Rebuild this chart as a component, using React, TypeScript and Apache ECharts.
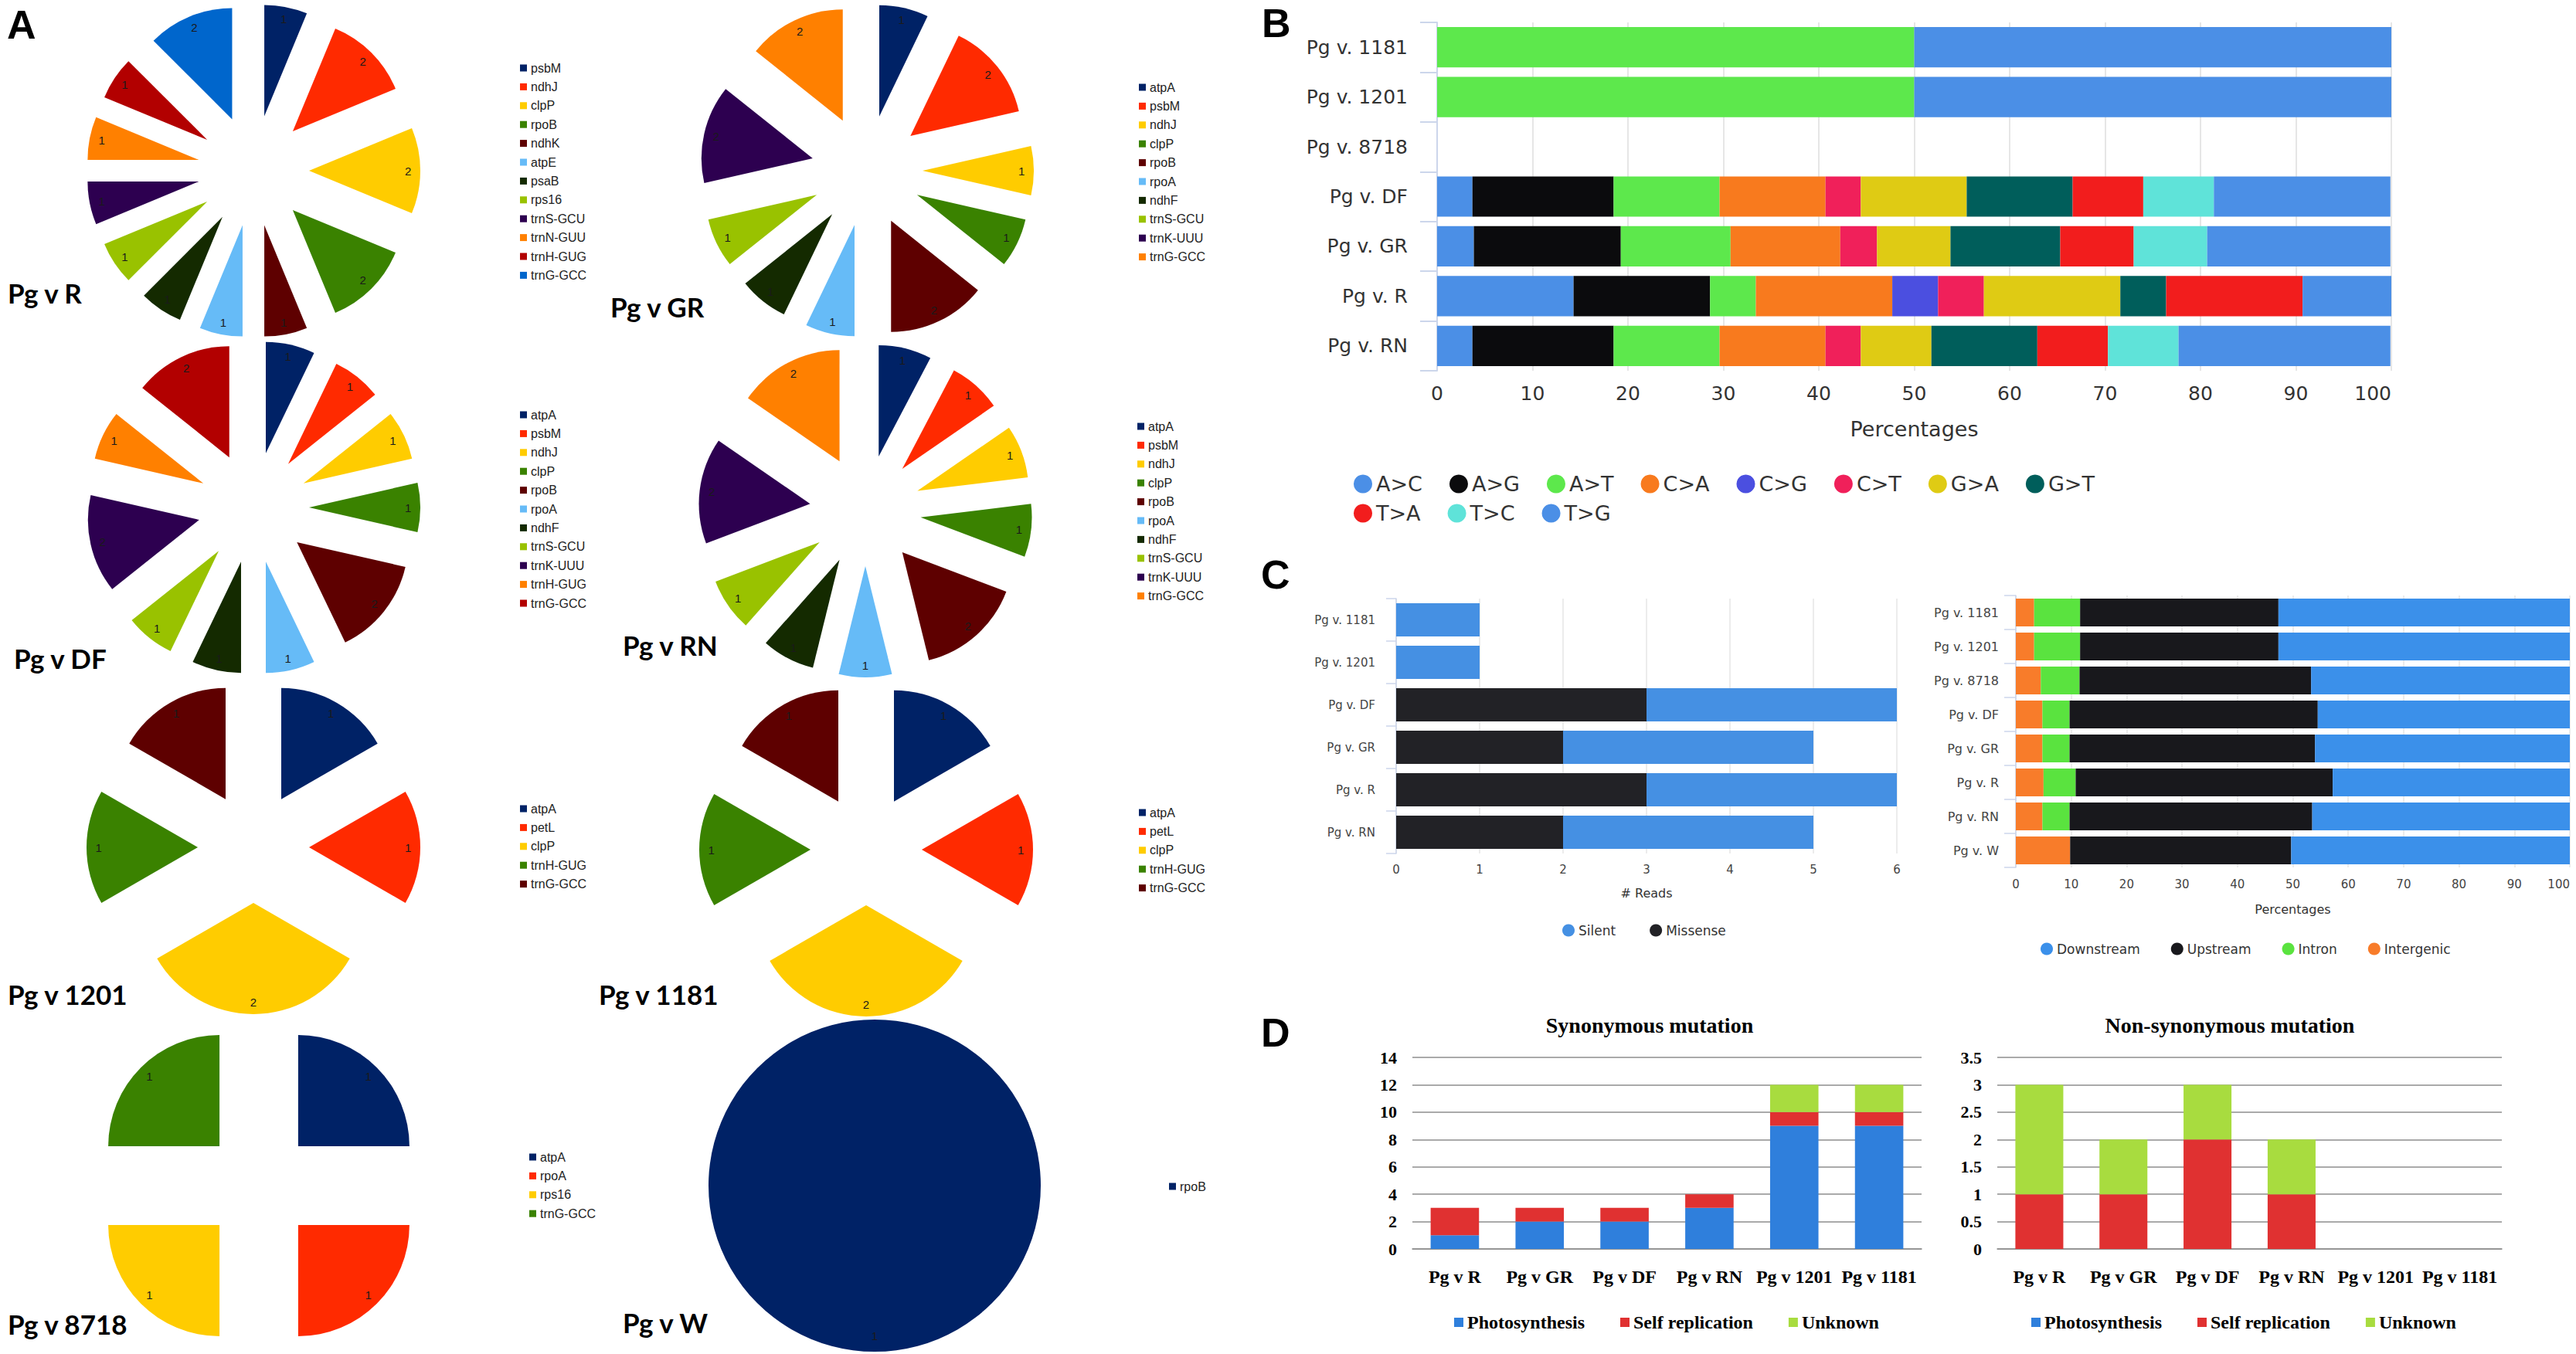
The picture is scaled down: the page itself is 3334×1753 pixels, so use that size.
import React, { useEffect, useRef } from "react";
import * as echarts from "echarts";

// ---------------- Panel A data ----------------
const PIE_TITLES = ["Pg v R", "Pg v GR", "Pg v DF", "Pg v RN", "Pg v 1201", "Pg v 1181", "Pg v 8718", "Pg v W"];
const R_GENES = ["psbM", "ndhJ", "clpP", "rpoB", "ndhK", "atpE", "psaB", "rps16", "trnS-GCU", "trnN-GUU", "trnH-GUG", "trnG-GCC"];
const R_COUNTS = [1, 2, 2, 2, 1, 1, 1, 1, 1, 1, 1, 2];
const GR_GENES = ["atpA", "psbM", "ndhJ", "clpP", "rpoB", "rpoA", "ndhF", "trnS-GCU", "trnK-UUU", "trnG-GCC"];
const GR_COUNTS = [1, 2, 1, 1, 2, 1, 1, 1, 2, 2];
const DF_GENES = ["atpA", "psbM", "ndhJ", "clpP", "rpoB", "rpoA", "ndhF", "trnS-GCU", "trnK-UUU", "trnH-GUG", "trnG-GCC"];
const DF_COUNTS = [1, 1, 1, 1, 2, 1, 1, 1, 2, 1, 2];
const RN_GENES = ["atpA", "psbM", "ndhJ", "clpP", "rpoB", "rpoA", "ndhF", "trnS-GCU", "trnK-UUU", "trnG-GCC"];
const RN_COUNTS = [1, 1, 1, 1, 2, 1, 1, 1, 2, 2];
const V1201_GENES = ["atpA", "petL", "clpP", "trnH-GUG", "trnG-GCC"];
const V1201_COUNTS = [1, 1, 2, 1, 1];
const V1181_GENES = ["atpA", "petL", "clpP", "trnH-GUG", "trnG-GCC"];
const V1181_COUNTS = [1, 1, 2, 1, 1];
const V8718_GENES = ["atpA", "rpoA", "rps16", "trnG-GCC"];
const V8718_COUNTS = [1, 1, 1, 1];
const W_GENES = ["rpoB"];
const W_COUNTS = [1];

const PIE_GENES = [R_GENES, GR_GENES, DF_GENES, RN_GENES, V1201_GENES, V1181_GENES, V8718_GENES, W_GENES];
const PIE_COUNTS = [R_COUNTS, GR_COUNTS, DF_COUNTS, RN_COUNTS, V1201_COUNTS, V1181_COUNTS, V8718_COUNTS, W_COUNTS];

// ---------------- Panel B data ----------------
const B_CATEGORIES = ["Pg v. 1181", "Pg v. 1201", "Pg v. 8718", "Pg v. DF", "Pg v. GR", "Pg v. R", "Pg v. RN"];
const B_TYPES = ["A>C", "A>G", "A>T", "C>A", "C>G", "C>T", "G>A", "G>T", "T>A", "T>C", "T>G"];
const B_AC = [0, 0, 0, 3.7, 3.85, 14.3, 3.7];
const B_AG = [0, 0, 0, 14.8, 15.4, 14.3, 14.8];
const B_AT = [50, 50, 0, 11.1, 11.5, 4.8, 11.1];
const B_CA = [0, 0, 0, 11.1, 11.5, 14.3, 11.1];
const B_CG = [0, 0, 0, 0, 0, 4.8, 0];
const B_CT = [0, 0, 0, 3.7, 3.85, 4.8, 3.7];
const B_GA = [0, 0, 0, 11.1, 7.7, 14.3, 7.4];
const B_GT = [0, 0, 0, 11.1, 11.5, 4.8, 11.1];
const B_TA = [0, 0, 0, 7.4, 7.7, 14.3, 7.4];
const B_TC = [0, 0, 0, 7.4, 7.7, 0, 7.4];
const B_TG = [50, 50, 0, 18.5, 19.2, 9.5, 22.2];
const B_VALUES = [B_AC, B_AG, B_AT, B_CA, B_CG, B_CT, B_GA, B_GT, B_TA, B_TC, B_TG];

// ---------------- Panel C data ----------------
const C1_CATEGORIES = ["Pg v. 1181", "Pg v. 1201", "Pg v. DF", "Pg v. GR", "Pg v. R", "Pg v. RN"];
const C1_MISSENSE = [0, 0, 3, 2, 3, 2];
const C1_SILENT = [1, 1, 3, 3, 3, 3];

const C2_CATEGORIES = ["Pg v. 1181", "Pg v. 1201", "Pg v. 8718", "Pg v. DF", "Pg v. GR", "Pg v. R", "Pg v. RN", "Pg v. W"];
const C2_INTERGENIC = [3.3, 3.3, 4.5, 4.8, 4.8, 5.0, 4.8, 9.8];
const C2_INTRON = [8.3, 8.3, 7.0, 4.9, 4.9, 5.8, 4.9, 0];
const C2_UPSTREAM = [35.8, 35.8, 41.8, 44.8, 44.3, 46.4, 43.8, 39.9];
const C2_DOWNSTREAM = [52.6, 52.6, 46.7, 45.5, 46.0, 42.8, 46.5, 50.3];

// ---------------- Panel D data ----------------
const D_CATEGORIES = ["Pg v R", "Pg v GR", "Pg v DF", "Pg v RN", "Pg v 1201", "Pg v 1181"];
const D_GROUPS = ["Photosynthesis", "Self replication", "Unknown"];
const SYN_PHOTO = [1, 2, 2, 3, 9, 9];
const SYN_SELF = [2, 1, 1, 1, 1, 1];
const SYN_UNKNOWN = [0, 0, 0, 0, 2, 2];
const NON_PHOTO = [0, 0, 0, 0, 0, 0];
const NON_SELF = [1, 1, 2, 1, 0, 0];
const NON_UNKNOWN = [2, 1, 1, 1, 0, 0];

// ---------------- styles / layout ----------------
const PIE_PALETTE = ["#002266", "#ff2a00", "#ffcc00", "#3a8200", "#5e0000", "#66bbf7", "#142a00", "#99c200", "#2d0050", "#ff8000", "#b20000", "#0066cc"];
const B_COLORS = ["#4b8fe6", "#0b0b0d", "#5de84c", "#f87a1e", "#4b4fe0", "#f0205a", "#dfcb14", "#005e5b", "#f21d1d", "#5fe3d9", "#4b8fe6"];
const D_COLORS = ["#2f7fdc", "#e03131", "#a8dc3f"];

const PIE_LAYOUT = [
  { cell: [0, 0, 790, 440], center: [328, 221], legend: [673, 88], label: [10, 379], r: 144, explode: true },
  { cell: [760, 0, 840, 440], center: [1122, 221], legend: [1474, 113], label: [790, 397], r: 144, explode: true },
  { cell: [0, 440, 790, 440], center: [328, 657], legend: [673, 537], label: [18, 852], r: 144, explode: true },
  { cell: [760, 440, 840, 440], center: [1120, 661], legend: [1472, 552], label: [806, 835], r: 144, explode: true },
  { cell: [0, 880, 790, 440], center: [328, 1097], legend: [673, 1047], label: [10, 1287], r: 144, explode: true },
  { cell: [760, 880, 840, 440], center: [1121, 1100], legend: [1474, 1052], label: [775, 1287], r: 144, explode: true },
  { cell: [0, 1320, 790, 433], center: [335, 1535], legend: [685, 1498], label: [10, 1714], r: 144, explode: true },
  { cell: [760, 1320, 840, 433], center: [1132, 1535], legend: [1513, 1536], label: [806, 1712], r: 215, explode: false },
];

const SANS = "'Liberation Sans', Arial, sans-serif";
const DEJAVU = "'DejaVu Sans', sans-serif";
const SERIF = "'Liberation Serif', 'Times New Roman', serif";

function panelLetter(letter: string, x: number, y: number) {
  return {
    type: "text",
    x,
    y,
    style: {
      text: letter,
      fontSize: 52,
      fontWeight: "bold",
      fontFamily: SANS,
      fill: "#000",
      align: "left",
      textAlign: "left",
      verticalAlign: "middle",
      textVerticalAlign: "middle",
    },
  };
}

function pieOption(i: number) {
  const L = PIE_LAYOUT[i];
  const [cx0, cy0] = L.cell;
  const center = [L.center[0] - cx0, L.center[1] - cy0];
  const data = PIE_GENES[i].map((g, k) => ({ name: g, value: PIE_COUNTS[i][k], selected: L.explode }));
  const off = 72;
  const graphic: any[] = [
    {
      type: "text",
      x: L.label[0] - cx0,
      y: L.label[1] - cy0,
      style: {
        text: PIE_TITLES[i],
        fontSize: 35,
        fontWeight: "bold",
        fontFamily: "Lato, 'Liberation Sans', sans-serif",
        fill: "#000",
        align: "left",
        textAlign: "left",
        verticalAlign: "middle",
        textVerticalAlign: "middle",
      },
    },
  ];
  if (i === 0) graphic.push(panelLetter("A", 9, 32));
  const full = !L.explode;
  const inner = full ? 175 : L.r * 0.74;
  const labelSeries: any = {
    type: "pie",
    center,
    radius: [inner, L.r],
    startAngle: 90,
    clockwise: true,
    selectedMode: L.explode ? "multiple" : false,
    selectedOffset: off,
    avoidLabelOverlap: false,
    silent: true,
    itemStyle: { color: "rgba(0,0,0,0)" },
    label: { show: true, position: "inside", formatter: "{c}", fontSize: 15, fontFamily: SANS, color: "#1a1a1a" },
    labelLine: { show: false },
    emphasis: { disabled: true },
    data,
  };
  if (full) {
    labelSeries.labelLayout = () => ({ x: center[0], y: center[1] + 194 });
  }
  return {
    animation: false,
    color: PIE_PALETTE,
    legend: {
      orient: "vertical",
      left: L.legend[0] - cx0,
      top: L.legend[1] - cy0 - 8,
      icon: "rect",
      itemWidth: 9,
      itemHeight: 9,
      itemGap: 8.4,
      padding: 0,
      selectedMode: false,
      textStyle: { fontSize: 16, lineHeight: 16, fontFamily: SANS, color: "#222" },
      data: PIE_GENES[i],
    },
    graphic,
    series: [
      {
        type: "pie",
        center,
        radius: [0, L.r],
        startAngle: 90,
        clockwise: true,
        selectedMode: L.explode ? "multiple" : false,
        selectedOffset: off,
        avoidLabelOverlap: false,
        silent: true,
        label: { show: false },
        labelLine: { show: false },
        emphasis: { disabled: true },
        data,
      },
      labelSeries,
    ],
  };
}

function optionB() {
  const legendBase = {
    icon: "circle",
    itemWidth: 24,
    itemHeight: 24,
    itemGap: 35,
    padding: 0,
    selectedMode: false,
    textStyle: { fontSize: 27, fontFamily: DEJAVU, color: "#333", width: 104 },
  };
  return {
    animation: false,
    graphic: [panelLetter("B", 33, 30)],
    grid: { left: 260, top: 29, width: 1235, height: 451 },
    legend: [
      { ...legendBase, left: 152, top: 613, data: B_TYPES.slice(0, 8) },
      { ...legendBase, left: 152, top: 651, data: B_TYPES.slice(8) },
    ],
    xAxis: {
      type: "value",
      min: 0,
      max: 100,
      interval: 10,
      axisLine: { show: false },
      axisTick: { show: false },
      splitLine: { lineStyle: { color: "#e6e6e6", width: 2 } },
      axisLabel: { fontSize: 25, margin: 17, color: "#333", fontFamily: DEJAVU, alignMaxLabel: "right" },
      name: "Percentages",
      nameLocation: "middle",
      nameGap: 62,
      nameTextStyle: { fontSize: 27, color: "#333", fontFamily: DEJAVU },
    },
    yAxis: {
      type: "category",
      inverse: true,
      data: B_CATEGORIES,
      axisLine: { show: true, lineStyle: { color: "#ccd6eb", width: 2 } },
      axisTick: { show: true, length: 22, lineStyle: { color: "#ccd6eb", width: 2 } },
      axisLabel: { fontSize: 25, margin: 38, color: "#333", fontFamily: DEJAVU },
      splitLine: { show: false },
    },
    series: B_TYPES.map((t, k) => ({
      name: t,
      type: "bar",
      stack: "all",
      barCategoryGap: "19%",
      silent: true,
      itemStyle: { color: B_COLORS[k] },
      data: B_VALUES[k],
    })),
  };
}

function optionC1() {
  return {
    animation: false,
    graphic: [panelLetter("C", 32, 44)],
    grid: { left: 207, top: 75, width: 648, height: 330 },
    legend: {
      left: 422,
      top: 496,
      icon: "circle",
      itemWidth: 16,
      itemHeight: 16,
      itemGap: 44,
      padding: 0,
      selectedMode: false,
      textStyle: { fontSize: 17, fontFamily: DEJAVU, color: "#333" },
      data: ["Silent", "Missense"],
    },
    xAxis: {
      type: "value",
      min: 0,
      max: 6,
      interval: 1,
      axisLine: { show: false },
      axisTick: { show: false },
      splitLine: { lineStyle: { color: "#e6e6e6", width: 1.5 } },
      axisLabel: { fontSize: 15, margin: 13, color: "#444", fontFamily: DEJAVU },
      name: "# Reads",
      nameLocation: "middle",
      nameGap: 43,
      nameTextStyle: { fontSize: 16, color: "#333", fontFamily: DEJAVU },
    },
    yAxis: {
      type: "category",
      inverse: true,
      data: C1_CATEGORIES,
      axisLine: { show: true, lineStyle: { color: "#ccd6eb", width: 1.5 } },
      axisTick: { show: true, length: 13, lineStyle: { color: "#ccd6eb", width: 1.5 } },
      axisLabel: { fontSize: 15, margin: 27, color: "#444", fontFamily: DEJAVU },
    },
    series: [
      { name: "Missense", type: "bar", stack: "all", barCategoryGap: "22%", silent: true, itemStyle: { color: "#222226" }, data: C1_MISSENSE },
      { name: "Silent", type: "bar", stack: "all", barCategoryGap: "22%", silent: true, itemStyle: { color: "#4590e3" }, data: C1_SILENT },
    ],
  };
}

function optionC2() {
  return {
    animation: false,
    grid: { left: 94, top: 71, width: 732, height: 352 },
    legend: {
      left: 141,
      top: 520,
      icon: "circle",
      itemWidth: 16,
      itemHeight: 16,
      itemGap: 40,
      padding: 0,
      selectedMode: false,
      textStyle: { fontSize: 17, fontFamily: DEJAVU, color: "#333" },
      data: ["Downstream", "Upstream", "Intron", "Intergenic"],
    },
    xAxis: {
      type: "value",
      min: 0,
      max: 100,
      interval: 10,
      axisLine: { show: false },
      axisTick: { show: false },
      splitLine: { lineStyle: { color: "#e6e6e6", width: 1.5 } },
      axisLabel: { fontSize: 15, margin: 14, color: "#444", fontFamily: DEJAVU, alignMaxLabel: "right" },
      name: "Percentages",
      nameLocation: "middle",
      nameGap: 46,
      nameTextStyle: { fontSize: 16, color: "#333", fontFamily: DEJAVU },
    },
    yAxis: {
      type: "category",
      inverse: true,
      data: C2_CATEGORIES,
      axisLine: { show: true, lineStyle: { color: "#ccd6eb", width: 1.5 } },
      axisTick: { show: true, length: 15, lineStyle: { color: "#ccd6eb", width: 1.5 } },
      axisLabel: { fontSize: 16, margin: 22, color: "#444", fontFamily: DEJAVU },
    },
    series: [
      { name: "Intergenic", type: "bar", stack: "all", barCategoryGap: "18%", silent: true, itemStyle: { color: "#f87c2a" }, data: C2_INTERGENIC },
      { name: "Intron", type: "bar", stack: "all", barCategoryGap: "18%", silent: true, itemStyle: { color: "#5ae33f" }, data: C2_INTRON },
      { name: "Upstream", type: "bar", stack: "all", barCategoryGap: "18%", silent: true, itemStyle: { color: "#18181c" }, data: C2_UPSTREAM },
      { name: "Downstream", type: "bar", stack: "all", barCategoryGap: "18%", silent: true, itemStyle: { color: "#3b90ea" }, data: C2_DOWNSTREAM },
    ],
  };
}

function optionD(title: string, titleX: number, gridLeft: number, gridWidth: number, max: number, interval: number, legendLeft: number, values: number[][], withLetter: boolean) {
  const graphic: any[] = [
    {
      type: "text",
      x: titleX,
      y: 67,
      style: {
        text: title,
        fontSize: 28,
        fontWeight: "bold",
        fontFamily: SERIF,
        fill: "#000",
        align: "center",
        textAlign: "center",
        verticalAlign: "middle",
        textVerticalAlign: "middle",
      },
    },
  ];
  if (withLetter) graphic.push(panelLetter("D", 32, 77));
  return {
    animation: false,
    graphic,
    grid: { left: gridLeft, top: 109, width: gridWidth, height: 248 },
    legend: {
      left: legendLeft,
      top: 440,
      icon: "rect",
      itemWidth: 12,
      itemHeight: 12,
      itemGap: 46,
      padding: 0,
      selectedMode: false,
      textStyle: { fontSize: 24, fontWeight: "bold", fontFamily: SERIF, color: "#000" },
      data: D_GROUPS,
    },
    xAxis: {
      type: "category",
      data: D_CATEGORIES,
      axisLine: { show: true, lineStyle: { color: "#8e8e8e", width: 1.5 } },
      axisTick: { show: false },
      axisLabel: { fontSize: 24, fontWeight: "bold", fontFamily: SERIF, color: "#000", margin: 24, interval: 0 },
    },
    yAxis: {
      type: "value",
      min: 0,
      max,
      interval,
      axisLine: { show: false },
      axisTick: { show: false },
      splitLine: { lineStyle: { color: "#8e8e8e", width: 1.5 } },
      axisLabel: { fontSize: 22, fontWeight: "bold", fontFamily: SERIF, color: "#000", margin: 20 },
    },
    series: D_GROUPS.map((g, k) => ({
      name: g,
      type: "bar",
      stack: "all",
      barCategoryGap: "43%",
      silent: true,
      itemStyle: { color: D_COLORS[k] },
      data: values[k],
    })),
  };
}

function Chart({ option, box }: { option: any; box: number[] }) {
  const ref = useRef<HTMLDivElement>(null);
  useEffect(() => {
    const chart = echarts.init(ref.current as HTMLDivElement, undefined, { renderer: "svg" });
    chart.setOption(option);
    return () => chart.dispose();
  }, []);
  return (
    <div
      ref={ref}
      style={{ position: "absolute", left: box[0], top: box[1], width: box[2], height: box[3] }}
    />
  );
}

export default function App() {
  return (
    <div
      style={{
        position: "absolute",
        left: 0,
        top: 0,
        width: 3334,
        height: 1753,
        background: "#fff",
        overflow: "hidden",
      }}
    >
      {PIE_LAYOUT.map((L, i) => (
        <Chart key={"pie" + i} option={pieOption(i)} box={L.cell} />
      ))}
      <Chart option={optionB()} box={[1600, 0, 1734, 700]} />
      <Chart option={optionC1()} box={[1600, 700, 900, 560]} />
      <Chart option={optionC2()} box={[2500, 700, 834, 560]} />
      <Chart
        option={optionD("Synonymous mutation", 535, 228, 659, 14, 2, 282, [SYN_PHOTO, SYN_SELF, SYN_UNKNOWN], true)}
        box={[1600, 1260, 900, 493]}
      />
      <Chart
        option={optionD("Non-synonymous mutation", 406, 105, 653, 3.5, 0.5, 149, [NON_PHOTO, NON_SELF, NON_UNKNOWN], false)}
        box={[2480, 1260, 854, 493]}
      />
    </div>
  );
}
